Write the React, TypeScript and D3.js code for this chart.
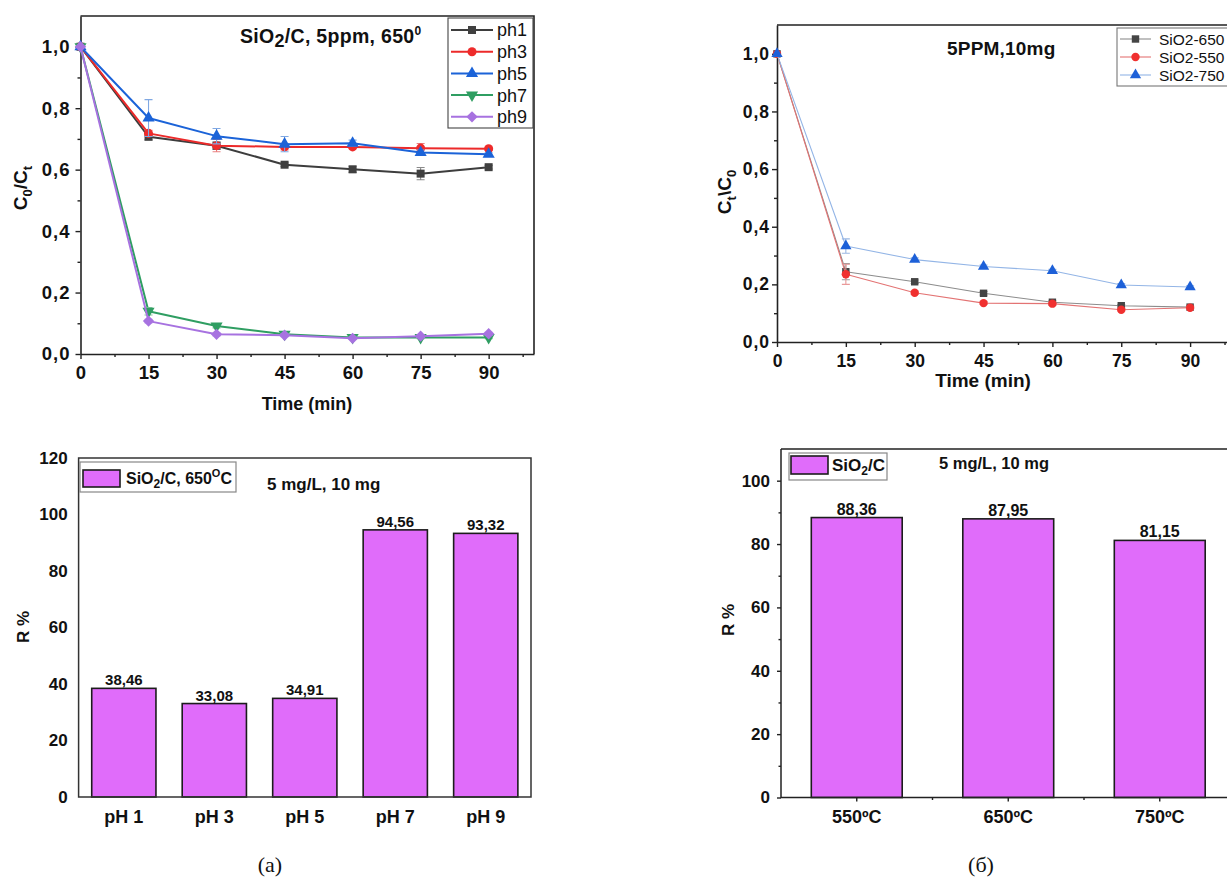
import { useEffect, useRef } from 'react';
import * as d3 from 'd3';

const SANS = '"Liberation Sans", Arial, Helvetica, sans-serif';
const SERIF = '"Liberation Serif", "Times New Roman", serif';

// time axis shared by both kinetic plots
const timeMin = [0, 15, 30, 45, 60, 75, 90];

// (a, top) C0/Ct at different pH
const phSeriesNames = ['ph1', 'ph3', 'ph5', 'ph7', 'ph9'];
const ph1Ratio = [1.0, 0.707, 0.678, 0.616, 0.601, 0.587, 0.608];
const ph3Ratio = [1.0, 0.718, 0.678, 0.674, 0.674, 0.670, 0.668];
const ph5Ratio = [1.0, 0.768, 0.709, 0.683, 0.686, 0.656, 0.650];
const ph7Ratio = [1.0, 0.139, 0.091, 0.064, 0.054, 0.054, 0.054];
const ph9Ratio = [1.0, 0.107, 0.064, 0.061, 0.051, 0.058, 0.066];
const ph1Err = [0, 0.01, 0.012, 0.006, 0.01, 0.02, 0.006];
const ph3Err = [0, 0.01, 0.02, 0.01, 0.006, 0.015, 0.005];
const ph5Err = [0, 0.06, 0.025, 0.025, 0.01, 0.008, 0.005];
const ph7Err = [0, 0.012, 0.006, 0.005, 0.004, 0.004, 0.004];
const ph9Err = [0, 0.006, 0.005, 0.005, 0.004, 0.004, 0.005];

// (б, top) Ct/C0 for different calcination temperatures
const tempSeriesNames = ['SiO2-650', 'SiO2-550', 'SiO2-750'];
const sio650Ratio = [1.0, 0.244, 0.209, 0.169, 0.138, 0.126, 0.121];
const sio550Ratio = [1.0, 0.235, 0.171, 0.135, 0.133, 0.112, 0.119];
const sio750Ratio = [1.0, 0.333, 0.286, 0.262, 0.247, 0.198, 0.191];
const sio650Err = [0, 0.028, 0.006, 0.006, 0.005, 0.004, 0.004];
const sio550Err = [0, 0.035, 0.006, 0.005, 0.005, 0.004, 0.004];
const sio750Err = [0, 0.025, 0.006, 0.005, 0.005, 0.005, 0.004];

// bar charts, removal R %
const phCategories = ['pH 1', 'pH 3', 'pH 5', 'pH 7', 'pH 9'];
const phRemoval = [38.46, 33.08, 34.91, 94.56, 93.32];
const tempCategories = ['550ºC', '650ºC', '750ºC'];
const tempRemoval = [88.36, 87.95, 81.15];

const commaFmt = (f: string) => (d: any) => d3.format(f)(d).replace('.', ',');

type Part = { t: string; dy?: number; size?: number };
function rich(sel: any, parts: Part[]) {
  let prev = 0;
  parts.forEach((p) => {
    const sp = sel.append('tspan').text(p.t);
    const shift = p.dy ?? 0;
    if (shift !== prev) sp.attr('dy', shift - prev);
    if (p.size) sp.attr('font-size', p.size);
    prev = shift;
  });
}

function markerPath(kind: string, size: number) {
  if (kind === 'circle') return d3.symbol(d3.symbolCircle, size)();
  if (kind === 'triangle' || kind === 'triangleDown') return d3.symbol(d3.symbolTriangle, size)();
  return d3.symbol(d3.symbolSquare, size)();
}
function markerRot(kind: string) {
  if (kind === 'triangleDown') return ' rotate(180)';
  if (kind === 'diamond') return ' rotate(45)';
  return '';
}

function styleAxis(ax: any, font: number, spacing = 0) {
  ax.attr('font-family', null).attr('font-size', null);
  ax.selectAll('text')
    .attr('font-family', SANS)
    .attr('font-size', font)
    .attr('font-weight', 'bold')
    .attr('letter-spacing', spacing)
    .attr('fill', '#111');
  ax.selectAll('line').attr('stroke', '#222').attr('stroke-width', 1.4);
  ax.selectAll('path').attr('stroke', '#222').attr('stroke-width', 1.6);
}

function lineChart(svg: any, o: any) {
  const x = d3.scaleLinear().domain(o.xDomain).range([o.left, o.right]);
  const y = d3.scaleLinear().domain(o.yDomain).range([o.bottom, o.top]);
  const g = svg.append('g');

  // frame (top and right)
  g.append('path')
    .attr('d', `M${o.left},${o.top}H${o.right}V${o.bottom}`)
    .attr('fill', 'none').attr('stroke', '#222').attr('stroke-width', 1.6);

  const xa = g.append('g').attr('transform', `translate(0,${o.bottom})`)
    .call(d3.axisBottom(x).tickValues(timeMin).tickSizeInner(5).tickSizeOuter(0)
      .tickPadding(o.xPad).tickFormat(d3.format('d')));
  styleAxis(xa, o.tickFont);
  const xm = g.append('g').attr('transform', `translate(0,${o.bottom})`)
    .call(d3.axisBottom(x).tickValues(o.xMinor).tickSize(3).tickFormat(() => ''));
  xm.select('.domain').remove();
  styleAxis(xm, o.tickFont);

  const ya = g.append('g').attr('transform', `translate(${o.left},0)`)
    .call(d3.axisLeft(y).tickValues(o.yTicks).tickSizeInner(5).tickSizeOuter(0)
      .tickPadding(o.yPad).tickFormat(commaFmt('.1f')));
  styleAxis(ya, o.tickFont, 1);
  const ym = g.append('g').attr('transform', `translate(${o.left},0)`)
    .call(d3.axisLeft(y).tickValues(o.yMinor).tickSize(3).tickFormat(() => ''));
  ym.select('.domain').remove();
  styleAxis(ym, o.tickFont);

  const line = d3.line<number>().x((_, i) => x(timeMin[i])).y((d) => y(d));

  o.series.forEach((s: any) => {
    g.append('path').datum(s.values).attr('d', line)
      .attr('fill', 'none').attr('stroke', s.line).attr('stroke-width', o.lineWidth)
      .attr('stroke-linejoin', 'round');
    s.errors.forEach((e: number, i: number) => {
      if (!e) return;
      const cx = x(timeMin[i]);
      const y1 = y(s.values[i] + e);
      const y2 = y(s.values[i] - e);
      g.append('path')
        .attr('d', `M${cx},${y1}V${y2}M${cx - 4},${y1}H${cx + 4}M${cx - 4},${y2}H${cx + 4}`)
        .attr('fill', 'none').attr('stroke', s.err).attr('stroke-width', 1.1);
    });
    g.selectAll(null).data(s.values).enter().append('path')
      .attr('d', markerPath(s.marker, o.markerSize))
      .attr('transform', (d: number, i: number) => `translate(${x(timeMin[i])},${y(d)})${markerRot(s.marker)}`)
      .attr('fill', s.fill);
  });

  // legend
  const L = o.legend;
  g.append('rect').attr('x', L.x).attr('y', L.y).attr('width', L.w).attr('height', L.h)
    .attr('fill', '#fff').attr('stroke', L.stroke).attr('stroke-width', 1.1);
  o.series.forEach((s: any, i: number) => {
    const ry = L.row0 + i * L.rowStep;
    g.append('line').attr('x1', L.lx1).attr('x2', L.lx2).attr('y1', ry).attr('y2', ry)
      .attr('stroke', s.line).attr('stroke-width', o.lineWidth);
    g.append('path').attr('d', markerPath(s.marker, o.markerSize))
      .attr('transform', `translate(${(L.lx1 + L.lx2) / 2},${ry})${markerRot(s.marker)}`)
      .attr('fill', s.fill);
    g.append('text').attr('x', L.tx).attr('y', ry + L.font * 0.36)
      .attr('font-family', SANS).attr('font-size', L.font).attr('fill', '#111')
      .attr('letter-spacing', L.spacing ?? 0)
      .text(s.name);
  });

  // title, axis labels
  const t = g.append('text').attr('x', o.title.x).attr('y', o.title.y)
    .attr('font-family', SANS).attr('font-size', o.title.font).attr('font-weight', 'bold').attr('fill', '#111')
    .attr('letter-spacing', o.title.spacing ?? 0);
  rich(t, o.title.parts);

  g.append('text').attr('x', o.xLabel.x).attr('y', o.xLabel.y).attr('text-anchor', 'middle')
    .attr('font-family', SANS).attr('font-size', o.xLabel.font).attr('font-weight', 'bold').attr('fill', '#111')
    .text('Time (min)');

  const yl = g.append('text').attr('text-anchor', 'middle')
    .attr('transform', `translate(${o.yLabel.x},${o.yLabel.y}) rotate(-90)`)
    .attr('font-family', SANS).attr('font-size', o.yLabel.font).attr('font-weight', 'bold').attr('fill', '#111');
  rich(yl, o.yLabel.parts);
}

function barChart(svg: any, o: any) {
  const x = d3.scaleBand<string>().domain(o.cats).range([o.left, o.right])
    .paddingInner(o.padIn).paddingOuter(o.padOut);
  const y = d3.scaleLinear().domain(o.yDomain).range([o.bottom, o.top]);
  const g = svg.append('g');

  g.selectAll(null).data(o.values).enter().append('rect')
    .attr('x', (_: number, i: number) => x(o.cats[i]))
    .attr('y', (d: number) => y(d))
    .attr('width', x.bandwidth())
    .attr('height', (d: number) => y(0) - y(d))
    .attr('fill', '#e06cfa').attr('stroke', '#1c1c1c').attr('stroke-width', 1.6);

  g.selectAll(null).data(o.values).enter().append('text')
    .attr('x', (_: number, i: number) => (x(o.cats[i]) as number) + x.bandwidth() / 2)
    .attr('y', (d: number) => y(d) - 3)
    .attr('text-anchor', 'middle')
    .attr('font-family', SANS).attr('font-size', o.valueFont).attr('font-weight', 'bold').attr('fill', '#111')
    .text(commaFmt('.2f'));

  // frame
  g.append('path').attr('d', o.framePath(o.left, o.right, o.top, o.bottom))
    .attr('fill', 'none').attr('stroke', o.frameColor).attr('stroke-width', 1.5);

  const ya = g.append('g').attr('transform', `translate(${o.left},0)`)
    .call(d3.axisLeft(y).tickValues(o.yTicks).tickSizeInner(o.tick).tickSizeOuter(0).tickPadding(o.yPad));
  ya.select('.domain').remove();
  styleAxis(ya, o.tickFont);
  if (o.yMinor) {
    const ym = g.append('g').attr('transform', `translate(${o.left},0)`)
      .call(d3.axisLeft(y).tickValues(o.yMinor).tickSize(2.5).tickFormat(() => ''));
    ym.select('.domain').remove();
    styleAxis(ym, o.tickFont);
  }

  const xa = g.append('g').attr('transform', `translate(0,${o.bottom})`)
    .call(d3.axisBottom(x).tickSizeInner(o.tick).tickSizeOuter(0).tickPadding(o.xPad));
  xa.select('.domain').remove();
  styleAxis(xa, o.xFont);
  if (o.xMinor) {
    const bounds = o.cats.slice(1).map((c: string) => (x(c) as number) - (x.step() - x.bandwidth()) / 2);
    g.selectAll(null).data(bounds).enter().append('line')
      .attr('x1', (d: number) => d).attr('x2', (d: number) => d)
      .attr('y1', o.bottom).attr('y2', o.bottom + 2.5)
      .attr('stroke', '#222').attr('stroke-width', 1.4);
  }

  // legend
  const L = o.legend;
  g.append('rect').attr('x', L.x).attr('y', L.y).attr('width', L.w).attr('height', L.h)
    .attr('fill', '#fff').attr('stroke', '#888').attr('stroke-width', 1.2);
  g.append('rect').attr('x', L.sx).attr('y', L.sy).attr('width', L.sw).attr('height', L.sh)
    .attr('fill', '#e06cfa').attr('stroke', '#1c1c1c').attr('stroke-width', 1.6);
  const lt = g.append('text').attr('x', L.tx).attr('y', L.ty)
    .attr('font-family', SANS).attr('font-size', L.font).attr('font-weight', 'bold').attr('fill', '#111');
  rich(lt, L.parts);

  g.append('text').attr('x', o.note.x).attr('y', o.note.y)
    .attr('font-family', SANS).attr('font-size', o.note.font).attr('font-weight', 'bold').attr('fill', '#111')
    .text('5 mg/L, 10 mg');

  g.append('text').attr('text-anchor', 'middle')
    .attr('transform', `translate(${o.yLabel.x},${o.yLabel.y}) rotate(-90)`)
    .attr('font-family', SANS).attr('font-size', o.yLabel.font).attr('font-weight', 'bold').attr('fill', '#111')
    .text('R %');

  g.append('text').attr('x', o.caption.x).attr('y', o.caption.y).attr('text-anchor', 'middle')
    .attr('font-family', SERIF).attr('font-size', 22).attr('fill', '#111')
    .text(o.caption.text);
}

export default function App() {
  const svgRef = useRef<SVGSVGElement>(null);

  useEffect(() => {
    if (!svgRef.current) return;
    const svg = d3.select(svgRef.current);
    svg.selectAll('*').remove();

    const phColors = [
      { line: '#3d3d3d', fill: '#404040', err: '#8a8a8a', marker: 'square' },
      { line: '#ec2a2a', fill: '#ee2b2b', err: '#e98080', marker: 'circle' },
      { line: '#1b63d8', fill: '#1b63d8', err: '#80a8e2', marker: 'triangle' },
      { line: '#2f9e62', fill: '#2f9e62', err: '#86c6a0', marker: 'triangleDown' },
      { line: '#a772e0', fill: '#a772e0', err: '#c9a8ee', marker: 'diamond' },
    ];
    const phValues = [ph1Ratio, ph3Ratio, ph5Ratio, ph7Ratio, ph9Ratio];
    const phErrs = [ph1Err, ph3Err, ph5Err, ph7Err, ph9Err];

    lineChart(svg, {
      left: 80.5, right: 534, top: 16, bottom: 354,
      xDomain: [0, 100], yDomain: [0, 1.1],
      xMinor: [7.5, 22.5, 37.5, 52.5, 67.5, 82.5, 97.5],
      yTicks: [0, 0.2, 0.4, 0.6, 0.8, 1.0], yMinor: [0.1, 0.3, 0.5, 0.7, 0.9],
      tickFont: 18.5, xPad: 7, yPad: 5, lineWidth: 2, markerSize: 64,
      series: phSeriesNames.map((n, i) => ({ name: n, values: phValues[i], errors: phErrs[i], ...phColors[i] })),
      legend: { x: 448, y: 18, w: 85, h: 110, stroke: '#444', row0: 30, rowStep: 21.7, lx1: 451, lx2: 493, tx: 497, font: 18 },
      title: { x: 240, y: 43, font: 19.5, spacing: 0.3, parts: [
        { t: 'SiO' }, { t: '2', dy: 4, size: 18 }, { t: '/C, 5ppm, 650' }, { t: '0', dy: -8, size: 12 },
      ] },
      xLabel: { x: 307, y: 410, font: 18 },
      yLabel: { x: 27, y: 188, font: 19, parts: [
        { t: 'C' }, { t: '0', dy: 5, size: 13 }, { t: '/C' }, { t: 't', dy: 5, size: 13 },
      ] },
    });

    const tempColors = [
      { line: '#8c8c8c', fill: '#454545', err: '#9a9a9a', marker: 'square' },
      { line: '#e37373', fill: '#f0302f', err: '#e99a9a', marker: 'circle' },
      { line: '#93b5e6', fill: '#1d60d8', err: '#9ab8e4', marker: 'triangle' },
    ];
    const tempValues = [sio650Ratio, sio550Ratio, sio750Ratio];
    const tempErrs = [sio650Err, sio550Err, sio750Err];

    lineChart(svg, {
      left: 777, right: 1236, top: 25, bottom: 342,
      xDomain: [0, 100], yDomain: [0, 1.1],
      xMinor: [7.5, 22.5, 37.5, 52.5, 67.5, 82.5, 97.5],
      yTicks: [0, 0.2, 0.4, 0.6, 0.8, 1.0], yMinor: [0.1, 0.3, 0.5, 0.7, 0.9],
      tickFont: 17.5, xPad: 8, yPad: 2, lineWidth: 1.1, markerSize: 55,
      series: tempSeriesNames.map((n, i) => ({ name: n, values: tempValues[i], errors: tempErrs[i], ...tempColors[i] })),
      legend: { x: 1117, y: 28, w: 130, h: 58, stroke: '#777', row0: 39, rowStep: 18, lx1: 1120, lx2: 1151, tx: 1159, font: 15.5, spacing: 0 },
      title: { x: 947, y: 55, font: 19, spacing: 0.2, parts: [{ t: '5PPM,10mg' }] },
      xLabel: { x: 983, y: 387, font: 19 },
      yLabel: { x: 731, y: 192, font: 19, parts: [
        { t: 'C' }, { t: 't', dy: 5, size: 13 }, { t: '\\C' }, { t: '0', dy: 5, size: 13 },
      ] },
    });

    barChart(svg, {
      cats: phCategories, values: phRemoval,
      left: 78.6, right: 531, top: 458, bottom: 797,
      padIn: 0.29, padOut: 0.145, yDomain: [0, 120],
      yTicks: [0, 20, 40, 60, 80, 100, 120], yMinor: null, xMinor: false,
      tick: 0, yPad: 11, xPad: 13, tickFont: 17, xFont: 18, valueFont: 15,
      frameColor: '#333',
      framePath: (l: number, r: number, t: number, b: number) => `M${l},${t}H${r}V${b}H${l}Z`,
      legend: { x: 80, y: 462, w: 156, h: 30, sx: 83, sy: 470, sw: 37, sh: 17, tx: 126, ty: 484, font: 16, parts: [
        { t: 'SiO' }, { t: '2', dy: 4, size: 12 }, { t: '/C, 650' }, { t: 'O', dy: -7, size: 11 }, { t: 'C' },
      ] },
      note: { x: 267, y: 490, font: 17 },
      yLabel: { x: 29, y: 627, font: 17 },
      caption: { x: 270, y: 872, text: '(a)' },
    });

    barChart(svg, {
      cats: tempCategories, values: tempRemoval,
      left: 781, right: 1235.5, top: 449, bottom: 797.5,
      padIn: 0.4, padOut: 0.2, yDomain: [0, 110],
      yTicks: [0, 20, 40, 60, 80, 100], yMinor: [10, 30, 50, 70, 90], xMinor: true,
      tick: 4, yPad: 7, xPad: 9, tickFont: 17, xFont: 18, valueFont: 16,
      frameColor: '#222',
      framePath: (l: number, r: number, t: number, b: number) => `M${l},${t}V${b}H${r}M${l},${t}H${r}V${b}`,
      legend: { x: 789, y: 453, w: 98, h: 27, sx: 791, sy: 456, sw: 37, sh: 18, tx: 832, ty: 471, font: 17, parts: [
        { t: 'SiO' }, { t: '2', dy: 4, size: 12 }, { t: '/C' },
      ] },
      note: { x: 939, y: 469, font: 16.5 },
      yLabel: { x: 734, y: 620, font: 17 },
      caption: { x: 981, y: 872, text: '(б)' },
    });
  }, []);

  return (
    <div style={{ position: 'absolute', left: 0, top: 0 }}>
      <svg ref={svgRef} width={1227} height={877} viewBox="0 0 1227 877" style={{ display: 'block', background: '#fff' }} />
    </div>
  );
}
